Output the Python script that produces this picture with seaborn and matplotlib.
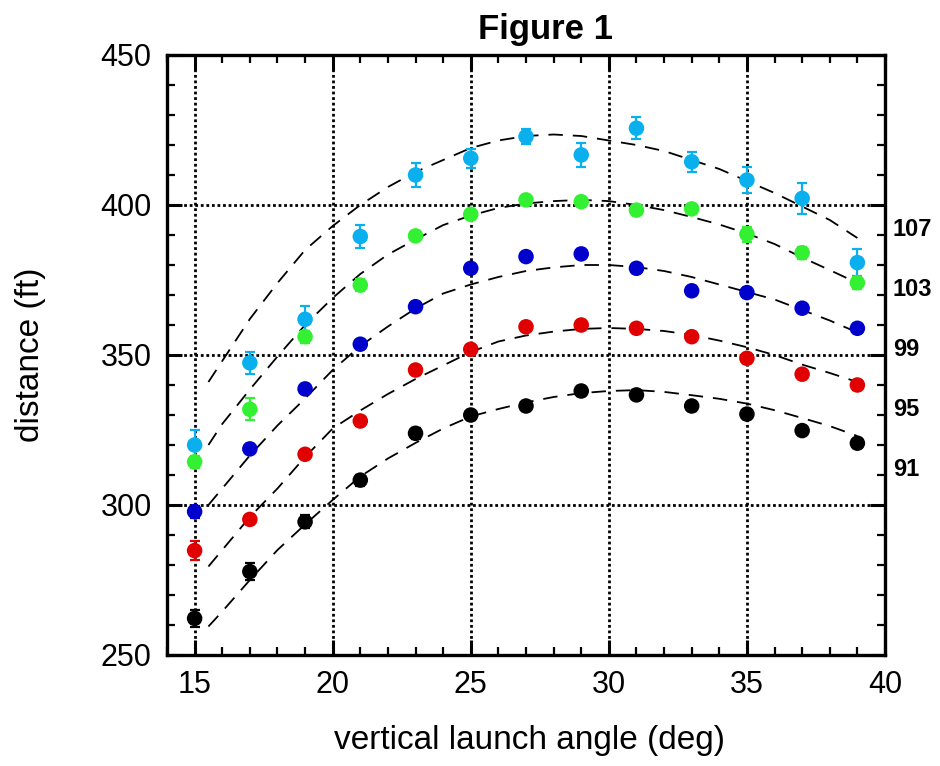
import numpy as np
import pandas as pd
import matplotlib
matplotlib.use("Agg")
import matplotlib.pyplot as plt
import matplotlib.transforms as mtransforms
from matplotlib.ticker import MultipleLocator
import seaborn as sns

# ---------------- data ----------------
angles = [15, 17, 19, 21, 23, 25, 27, 29, 31, 33, 35, 37, 39]
speeds = ["107", "103", "99", "95", "91"]

dist_107 = [320.0, 347.4, 361.9, 389.5, 410.0, 415.6, 422.8, 416.7, 425.6, 414.4, 408.3, 402.2, 380.8]
err_107 = [5.0, 3.7, 4.4, 3.7, 3.9, 3.2, 2.5, 3.9, 3.6, 3.3, 4.4, 5.3, 4.4]
dist_103 = [314.4, 331.9, 356.1, 373.3, 389.7, 396.9, 401.7, 401.1, 398.3, 398.7, 390.3, 384.1, 374.1]
err_103 = [2.0, 3.7, 2.0, 2.0, 1.5, 1.5, 1.5, 1.5, 1.5, 1.5, 2.5, 2.0, 2.0]
dist_99 = [297.8, 318.7, 338.7, 353.6, 366.1, 378.9, 382.8, 383.7, 378.9, 371.4, 370.8, 365.6, 358.9]
err_99 = [2.0, 1.5, 1.5, 1.5, 1.5, 1.5, 1.5, 1.5, 1.5, 1.5, 1.5, 1.5, 1.5]
dist_95 = [284.8, 295.2, 316.9, 328.0, 345.0, 351.9, 359.4, 360.0, 358.9, 356.1, 348.9, 343.6, 340.0]
err_95 = [3.1, 1.5, 1.5, 1.5, 1.5, 1.5, 1.5, 1.5, 1.5, 1.5, 1.5, 1.5, 1.5]
dist_91 = [262.2, 277.8, 294.4, 308.3, 323.9, 330.0, 333.0, 338.0, 336.7, 333.0, 330.3, 324.8, 320.6]
err_91 = [2.8, 2.8, 2.2, 1.8, 1.8, 1.5, 1.5, 1.8, 1.5, 1.5, 1.5, 1.5, 1.5]

fit_angles = [15.5, 16, 17, 18, 19, 20, 21, 22, 23, 24, 25, 26, 27, 28, 29, 30,
              31, 32, 33, 34, 35, 36, 37, 38, 39]
fit_107 = [341, 348, 362, 374, 385, 393, 400, 406, 411, 415, 419, 421.5, 423, 423.5, 423,
           421.5, 420, 418, 415, 412, 408, 404, 399.5, 395, 389]
fit_103 = [320, 327, 338.5, 349.5, 360, 369, 377, 383.5, 388.5, 393.3, 396.5, 399, 400.5,
           401.3, 401.7, 401.3, 400, 398.3, 396, 393.5, 390.5, 387, 382.5, 378.3, 374]
fit_99 = [300, 305.5, 316.5, 326.5, 335.5, 345, 353, 359.5, 365.5, 370.5, 373.5, 376, 378,
          379.2, 380, 380, 379.3, 378, 376, 373.5, 371, 368.5, 365, 361.5, 357.5]
fit_95 = [279.5, 285, 296, 305.5, 316, 325.5, 331.5, 337, 342, 346.5, 351, 354.5, 356.5,
          357.8, 358.7, 359, 358.7, 358, 356.7, 354.8, 352.6, 350, 346.8, 344, 341]
fit_91 = [259.5, 264.5, 275, 285, 293.5, 301.7, 309.5, 315.5, 320.7, 325.5, 329.5, 332,
          334.2, 336, 337.3, 338, 338.3, 337.7, 336.6, 335.4, 333.8, 331.6, 329, 326.3, 323]

colors = ["#0AB0EE", "#33F033", "#0000CC", "#E00000", "#000000"]

dists = [dist_107, dist_103, dist_99, dist_95, dist_91]
errs = [err_107, err_103, err_99, err_95, err_91]
fits = [fit_107, fit_103, fit_99, fit_95, fit_91]

df = pd.DataFrame({
    "angle": np.tile(angles, len(speeds)),
    "distance": np.concatenate(dists),
    "err": np.concatenate(errs),
    "speed": np.repeat(speeds, len(angles)),
})
fit_df = pd.DataFrame({
    "angle": np.tile(fit_angles, len(speeds)),
    "distance": np.concatenate(fits),
    "speed": np.repeat(speeds, len(fit_angles)),
})

# ---------------- style ----------------
sns.set_style("ticks")
plt.rcParams["font.family"] = ["Liberation Sans", "DejaVu Sans"]
plt.rcParams["text.color"] = "black"
plt.rcParams["axes.labelcolor"] = "black"
plt.rcParams["xtick.color"] = "black"
plt.rcParams["ytick.color"] = "black"

fig = plt.figure(figsize=(9.4, 7.66), dpi=100)
ax = fig.add_axes([167 / 940, 1 - 655 / 766, (885 - 167) / 940, (655 - 55) / 766])

# fit curves
sns.lineplot(data=fit_df, x="angle", y="distance", hue="speed",
             palette=["black"] * len(speeds), hue_order=speeds, legend=False,
             linewidth=1.3, linestyle=(0, (8, 5.5)), ax=ax, zorder=2)

# error bars
for d, e, c in zip(dists, errs, colors):
    ax.errorbar(angles, d, yerr=e, fmt="none", ecolor=c, elinewidth=1.6,
                capsize=3.5, capthick=1.6, zorder=3)

# points
sns.scatterplot(data=df, x="angle", y="distance", hue="speed", hue_order=speeds,
                palette=colors, s=125, edgecolor="none", legend=False, ax=ax, zorder=4)

ax.set_xlim(14, 40)
ax.set_ylim(250, 450)
ax.xaxis.set_major_locator(MultipleLocator(5))
ax.xaxis.set_minor_locator(MultipleLocator(1))
ax.yaxis.set_major_locator(MultipleLocator(50))
ax.yaxis.set_minor_locator(MultipleLocator(10))

ax.grid(True, which="major", color="black", linestyle=(0, (1, 1)), linewidth=2)
ax.set_axisbelow(True)

for sp in ax.spines.values():
    sp.set_linewidth(2.4)
    sp.set_color("black")

ax.tick_params(which="both", direction="in", top=True, right=True, colors="black")
ax.tick_params(which="major", length=11, width=2.2, labelsize=22, pad=11)
ax.tick_params(which="minor", length=6, width=1.6)

ax.set_xlabel("vertical launch angle (deg)", fontsize=24)
ax.set_ylabel("distance (ft)", fontsize=24)
ax.xaxis.set_label_coords(0.505, -0.142)
ax.xaxis.label.set_va("center")
ax.yaxis.set_label_coords(-0.19, 0.5)
ax.yaxis.label.set_va("center")

trans = mtransforms.blended_transform_factory(ax.transAxes, ax.transData)
for i, s in enumerate(speeds):
    ax.text(1.011, 392 - 20 * i, s, transform=trans, fontsize=17,
            fontweight="bold", va="center", ha="left")

fig.text(545 / 940, 1 - 30 / 766, "Figure 1", ha="center", va="center",
         fontsize=25, fontweight="bold")

fig.savefig("out.png", dpi=100)
